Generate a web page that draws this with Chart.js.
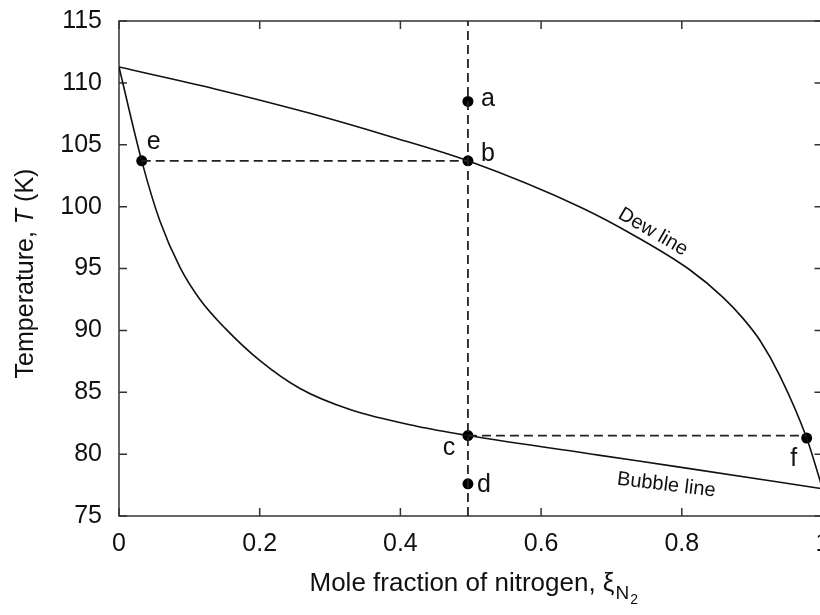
<!DOCTYPE html>
<html><head><meta charset="utf-8">
<script src="https://cdn.jsdelivr.net/npm/chart.js@4.4.1/dist/chart.umd.min.js"></script>
<style>
html,body{margin:0;padding:0;background:#fff;overflow:hidden;width:820px;height:615px}
#wrap{position:absolute;left:0;top:0;width:830px;height:615px}
</style>
</head><body><div id="wrap"><canvas id="c" width="830" height="615"></canvas></div>
<script>
// ---- data ----
const xTickValues = [0, 0.2, 0.4, 0.6, 0.8, 1];
const xTickLabels = ['0', '0.2', '0.4', '0.6', '0.8', '1'];
const yTickValues = [75, 80, 85, 90, 95, 100, 105, 110, 115];
const yTickLabels = ['75', '80', '85', '90', '95', '100', '105', '110', '115'];

const dewX = [0, 0.1365, 0.2715, 0.3852, 0.496, 0.6553, 0.7335, 0.8117, 0.8586, 0.887, 0.9112, 0.9396, 0.9775, 1.0];
const dewT = [111.28, 109.51, 107.54, 105.67, 103.7, 99.97, 97.63, 94.88, 92.67, 90.97, 89.18, 86.31, 81.3, 77.2];

const bubbleX = [0, 0.0323, 0.0583, 0.0867, 0.1151, 0.1507, 0.2004, 0.2573, 0.3284, 0.4232, 0.496, 0.684, 0.797, 1.0];
const bubbleT = [111.28, 103.7, 98.81, 95.09, 92.5, 90.18, 87.55, 85.3, 83.6, 82.25, 81.5, 79.9, 78.95, 77.2];

const pointNames = ['a', 'b', 'c', 'd', 'e', 'f'];
const pointX = [0.496, 0.496, 0.496, 0.496, 0.0323, 0.9775];
const pointT = [108.5, 103.7, 81.5, 77.6, 103.7, 81.3];

const curveNames = ['Dew line', 'Bubble line'];
const curveLabelX = [0.759, 0.778];
const curveLabelT = [97.95, 77.5];

const xTitle = 'Mole fraction of nitrogen, ';
const yTitleA = 'Temperature, ';
const yTitleB = 'T';
const yTitleC = ' (K)';

// ---- helpers ----
const FONT = "'Liberation Sans', Arial, Helvetica, sans-serif";
const zip = (xs, ys) => xs.map((x, i) => ({x: x, y: ys[i]}));
const idx = n => pointNames.indexOf(n);
const P = n => ({x: pointX[idx(n)], y: pointT[idx(n)]});

const dashV = [{x: P('a').x, y: yTickValues[0]}, {x: P('a').x, y: yTickValues[yTickValues.length - 1]}];
const dashEB = [P('e'), P('b')];
const dashCF = [P('c'), {x: P('f').x, y: P('c').y}];

const dashStyle = {borderColor: '#222', borderWidth: 1.8, borderDash: [9, 5], pointRadius: 0, fill: false, tension: 0};

const labelOffsets = {a: [20, 5], b: [20, 0], c: [-19, 19], d: [16, 8], e: [12, -12], f: [-13, 28]};
const curveLabelAngles = [30, 7];
const curveLabelSize = [20, 20];

const framePlugin = {
  id: 'frame',
  beforeDatasetsDraw(chart) {
    const {ctx, chartArea: a, scales: {x, y}} = chart;
    ctx.save();
    ctx.strokeStyle = '#333';
    ctx.lineWidth = 1.5;
    ctx.strokeRect(a.left, a.top, a.right - a.left, a.bottom - a.top);
    ctx.beginPath();
    const tl = 8;
    xTickValues.forEach(v => {
      const px = x.getPixelForValue(v);
      ctx.moveTo(px, a.bottom); ctx.lineTo(px, a.bottom - tl);
      ctx.moveTo(px, a.top); ctx.lineTo(px, a.top + tl);
    });
    yTickValues.forEach(v => {
      const py = y.getPixelForValue(v);
      ctx.moveTo(a.left, py); ctx.lineTo(a.left + tl, py);
      ctx.moveTo(a.right, py); ctx.lineTo(a.right - tl, py);
    });
    ctx.stroke();
    ctx.restore();
  },
  afterDatasetsDraw(chart) {
    const {ctx, chartArea: a, scales: {x, y}} = chart;
    ctx.save();
    ctx.fillStyle = '#111';
    ctx.font = '25px ' + FONT;
    ctx.textAlign = 'center';
    ctx.textBaseline = 'alphabetic';
    pointNames.forEach((n, i) => {
      const off = labelOffsets[n];
      ctx.fillText(n, x.getPixelForValue(pointX[i]) + off[0], y.getPixelForValue(pointT[i]) + off[1]);
    });
    curveNames.forEach((n, i) => {
      ctx.save();
      ctx.translate(x.getPixelForValue(curveLabelX[i]), y.getPixelForValue(curveLabelT[i]));
      ctx.rotate(curveLabelAngles[i] * Math.PI / 180);
      ctx.font = curveLabelSize[i] + 'px ' + FONT;
      ctx.textBaseline = 'middle';
      ctx.fillText(n, 0, 0);
      ctx.restore();
    });
    // x title
    ctx.textAlign = 'left';
    ctx.textBaseline = 'alphabetic';
    ctx.font = '26px ' + FONT;
    const w1 = ctx.measureText(xTitle).width;
    const w2 = ctx.measureText('\u03BE').width;
    ctx.font = '19px ' + FONT;
    const w3 = ctx.measureText('N').width;
    ctx.font = '14px ' + FONT;
    const w4 = ctx.measureText('2').width;
    const total = w1 + w2 + w3 + w4 + 2;
    let sx = (a.left + a.right) / 2 - total / 2 + 3;
    const base = 591;
    ctx.font = '26px ' + FONT;
    ctx.fillText(xTitle, sx, base); sx += w1;
    ctx.fillText('\u03BE', sx, base); sx += w2 + 1;
    ctx.font = '19px ' + FONT;
    ctx.fillText('N', sx, base + 8); sx += w3 + 1;
    ctx.font = '14px ' + FONT;
    ctx.fillText('2', sx, base + 13);
    // y title
    ctx.save();
    ctx.translate(33, 273.5);
    ctx.rotate(-Math.PI / 2);
    ctx.font = '25px ' + FONT;
    const ya = ctx.measureText(yTitleA).width;
    const yc = ctx.measureText(yTitleC).width;
    ctx.font = 'italic 25px ' + FONT;
    const yb = ctx.measureText(yTitleB).width;
    let tx = -(ya + yb + yc) / 2;
    ctx.font = '25px ' + FONT;
    ctx.fillText(yTitleA, tx, 0); tx += ya;
    ctx.font = 'italic 25px ' + FONT;
    ctx.fillText(yTitleB, tx, 0); tx += yb;
    ctx.font = '25px ' + FONT;
    ctx.fillText(yTitleC, tx, 0);
    ctx.restore();
    ctx.restore();
  }
};

const bgPlugin = {
  id: 'bg',
  beforeDraw(chart) {
    const ctx = chart.ctx;
    ctx.save(); ctx.fillStyle = '#fff'; ctx.fillRect(0, 0, chart.width, chart.height); ctx.restore();
  }
};

new Chart(document.getElementById('c'), {
  type: 'line',
  data: {
    datasets: [
      Object.assign({label: 'vertical', data: dashV}, dashStyle),
      Object.assign({label: 'e-b', data: dashEB}, dashStyle),
      Object.assign({label: 'c-f', data: dashCF}, dashStyle),
      {label: 'Dew line', data: zip(dewX, dewT), borderColor: '#111', borderWidth: 1.6, pointRadius: 0, cubicInterpolationMode: 'monotone', fill: false},
      {label: 'Bubble line', data: zip(bubbleX, bubbleT), borderColor: '#111', borderWidth: 1.6, pointRadius: 0, cubicInterpolationMode: 'monotone', fill: false},
      {label: 'points', data: zip(pointX, pointT), showLine: false, pointRadius: 5.5, pointBackgroundColor: '#000', pointBorderColor: '#000', pointBorderWidth: 0}
    ]
  },
  options: {
    responsive: false,
    animation: false,
    events: [],
    layout: {padding: {left: 0, right: 7.5, top: 21, bottom: 0}},
    plugins: {legend: {display: false}, tooltip: {enabled: false}},
    scales: {
      x: {
        type: 'linear', min: 0, max: 1,
        afterBuildTicks: s => { s.ticks = xTickValues.map(v => ({value: v})); },
        afterFit: s => { s.height = 99; s.paddingLeft = 0; s.paddingRight = 0; },
        grid: {display: false, drawTicks: false},
        border: {display: false},
        ticks: {autoSkip: false, maxRotation: 0, padding: 13, color: '#111', font: {family: FONT, size: 25},
          callback: (v, i) => xTickLabels[i]}
      },
      y: {
        type: 'linear', min: 75, max: 115,
        afterBuildTicks: s => { s.ticks = yTickValues.map(v => ({value: v})); },
        afterFit: s => { s.width = 119; s.paddingTop = 0; s.paddingBottom = 0; },
        grid: {display: false, drawTicks: false},
        border: {display: false},
        ticks: {autoSkip: false, padding: 17, color: '#111', font: {family: FONT, size: 25},
          callback: (v, i) => yTickLabels[i]}
      }
    }
  },
  plugins: [bgPlugin, framePlugin]
});
</script>
</body></html>
